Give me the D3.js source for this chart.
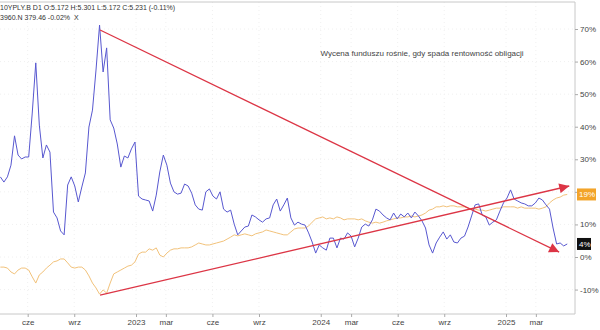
<!DOCTYPE html>
<html>
<head>
<meta charset="utf-8">
<script src="https://cdn.jsdelivr.net/npm/d3@7"></script>
<style>
  body { margin: 0; background: #fff; }
  svg { display: block; font-family: "Liberation Sans", Arial, sans-serif; }
</style>
</head>
<body>
<svg width="600" height="330"></svg>
<script>
// weekly closes, % change from start
const weekStart = "2022-04-08";

const yieldChange = [
  24.6, 23.0, 24.6, 28.2, 37.2, 31.3, 30.1, 30.7, 30.7, 44.2,
  59.6, 40.5, 30.4, 34.4, 32.2, 13.8, 12.0, 8.0, 6.8, 22.1,
  24.6, 21.8, 16.9, 21.5, 25.8, 39.9, 45.1, 57.4, 71.2, 56.8,
  64.2, 42.1, 39.6, 34.7, 27.6, 31.0, 30.4, 33.2, 35.3, 18.7,
  17.8, 17.5, 17.2, 14.1, 19.0, 26.1, 31.3, 28.2, 22.7, 20.0,
  19.3, 19.6, 22.4, 21.8, 19.6, 16.0, 14.7, 14.4, 20.0, 20.9,
  18.7, 17.8, 20.0, 14.7, 13.8, 14.4, 10.1, 6.8, 8.0, 9.2,
  9.5, 12.9, 12.3, 11.4, 10.7, 11.7, 12.0, 16.0, 17.8, 14.1,
  16.0, 18.1, 12.0, 9.8, 10.7, 10.1, 9.8, 7.4, 4.6, 1.2,
  3.7, 2.8, 2.1, 5.8, 5.8, 2.8, 5.8, 5.5, 7.4, 6.4,
  3.1, 5.8, 9.2, 10.1, 9.5, 11.4, 14.7, 14.1, 12.9, 12.0,
  11.4, 13.5, 11.7, 13.2, 12.3, 13.5, 12.0, 13.8, 12.6, 11.1,
  8.9, 3.7, 1.2, 4.3, 6.1, 7.7, 5.5, 6.8, 4.6, 4.3,
  5.8, 6.4, 9.2, 12.6, 16.0, 16.3, 12.9, 12.3, 9.8, 10.7,
  11.4, 14.1, 16.6, 18.1, 20.6, 17.8, 17.2, 16.6, 16.3, 15.7,
  15.7, 16.6, 18.1, 17.5, 16.0, 14.7, 8.9, 4.0, 4.3, 3.4,
  4.0
];

const fundChange = [
  -3.1, -3.1, -3.4, -4.6, -5.2, -4.0, -3.4, -3.4, -4.0, -6.1,
  -8.0, -5.5, -4.6, -3.4, -2.5, -1.5, -1.2, -0.6, -0.6, -1.8,
  -3.1, -3.4, -3.1, -3.1, -4.0, -5.8, -8.0, -9.5, -11.4, -10.1,
  -11.1, -8.0, -5.2, -4.6, -4.0, -3.4, -2.8, -2.5, -1.5, 0.9,
  1.5, 1.5, 2.5, 2.1, 2.8, 0.6, 0.0, 1.2, 2.1, 2.5,
  2.5, 2.8, 2.8, 2.8, 3.1, 3.7, 4.3, 4.0, 3.7, 3.7,
  4.0, 4.3, 4.6, 4.9, 5.5, 6.1, 6.8, 6.5, 6.8, 7.1,
  6.8, 6.5, 7.1, 7.4, 7.7, 8.3, 8.0, 7.7, 7.4, 7.1,
  6.8, 6.8, 7.7, 8.6, 8.9, 8.9, 8.9, 9.5, 10.7, 11.7,
  12.0, 12.3, 11.7, 12.0, 11.7, 12.3, 12.0, 11.4, 11.7, 11.7,
  11.7, 11.4, 11.7, 11.1, 10.7, 10.4, 10.7, 10.4, 10.7, 11.1,
  11.4, 11.7, 12.0, 12.0, 12.3, 12.3, 12.6, 12.3, 12.6, 12.9,
  13.5, 14.4, 14.7, 15.4, 15.4, 15.7, 15.4, 15.7, 15.7, 15.4,
  15.4, 15.4, 15.0, 14.7, 14.7, 14.4, 14.4, 14.1, 14.4, 14.7,
  15.0, 15.0, 15.4, 15.4, 15.4, 15.4, 15.0, 15.4, 15.0, 15.0,
  15.0, 15.0, 14.7, 15.0, 15.4, 16.6, 17.5, 18.1, 18.4, 19.0,
  19.2
];

const tickDates = ["2022-06-01", "2022-09-01", "2023-01-01", "2023-03-01", "2023-06-01", "2023-09-01",
                   "2024-01-01", "2024-03-01", "2024-06-01", "2024-09-01", "2025-01-01", "2025-03-01"];
const tickLabels = ["cze", "wrz", "2023", "mar", "cze", "wrz", "2024", "mar", "cze", "wrz", "2025", "mar"];
const yTicks = [-10, 0, 10, 20, 30, 40, 50, 60, 70];

// trend arrows drawn on the chart: [date, %]
const arrowFrom = [["2022-10-22", 69.7], ["2022-10-22", -11.7]];
const arrowTo = [["2025-04-16", 1.5], ["2025-05-06", 21.8]];

const headerLines = [
  "10YPLY.B D1 O:5.172 H:5.301 L:5.172 C:5.231 (-0.11%)",
  "3960.N 379.46 -0.02%  X"
];
const note = "Wycena funduszu rośnie, gdy spada rentowność obligacji";

const svg = d3.select("svg");
const parse = d3.timeParse("%Y-%m-%d");
const plot = {left: 0, right: 575, top: 2, bottom: 314};

const x = d3.scaleTime()
  .domain([parse("2023-01-01"), parse("2025-01-01")])
  .range([136, 506]);
const y = d3.scaleLinear().domain([0, 70]).range([257, 29]);

const start = parse(weekStart);
const dates = yieldChange.map((_, i) => d3.timeDay.offset(start, 7 * i));

svg.append("clipPath").attr("id", "clip")
  .append("rect")
  .attr("x", plot.left).attr("y", plot.top)
  .attr("width", plot.right - plot.left).attr("height", plot.bottom - plot.top);

// faint grid
const grid = svg.append("g").attr("stroke", "#f0f0f0").attr("stroke-dasharray", "1,3");
grid.selectAll(".gy").data(yTicks).join("line")
  .attr("x1", plot.left).attr("x2", plot.right)
  .attr("y1", d => y(d)).attr("y2", d => y(d));
grid.selectAll(".gx").data(tickDates).join("line")
  .attr("x1", d => x(parse(d))).attr("x2", d => x(parse(d)))
  .attr("y1", plot.top).attr("y2", plot.bottom);

// frame
svg.append("path")
  .attr("d", `M${plot.left},${plot.top}H${plot.right}V${plot.bottom}H${plot.left}`)
  .attr("fill", "none").attr("stroke", "#c8c8c8");

// last value tags (drawn over the axis labels)
const tags = [
  {v: fundChange[fundChange.length - 1], fill: "#f3a42a"},
  {v: yieldChange[yieldChange.length - 1], fill: "#111"}
];

// axes
const xAxis = svg.append("g")
  .attr("transform", `translate(0,${plot.bottom})`)
  .call(d3.axisBottom(x).tickValues(tickDates.map(parse))
    .tickFormat((d, i) => tickLabels[i]).tickSize(3).tickSizeOuter(0));
const yAxis = svg.append("g")
  .attr("transform", `translate(${plot.right},0)`)
  .call(d3.axisRight(y).tickValues(yTicks).tickFormat(d => d + "%").tickSize(3).tickSizeOuter(0));
[xAxis, yAxis].forEach(g => {
  g.select(".domain").remove();
  g.selectAll("line").attr("stroke", "#aaa");
  g.selectAll("text").attr("fill", "#444").style("font-size", "8px");
});
xAxis.selectAll("text").attr("dy", "0.6em");
yAxis.selectAll("text").attr("dx", "-1");
// a tag hides the tick label beneath it
yAxis.selectAll(".tick")
  .filter(d => tags.some(t => Math.abs(y(d) - y(t.v)) < 8))
  .select("text").remove();

const line = d3.line().x((d, i) => x(dates[i])).y(d => y(d));
const lines = svg.append("g").attr("clip-path", "url(#clip)");
lines.append("path").attr("d", line(fundChange))
  .attr("fill", "none").attr("stroke", "#f2c27a").attr("stroke-width", 1);
lines.append("path").attr("d", line(yieldChange))
  .attr("fill", "none").attr("stroke", "#5858d0").attr("stroke-width", 1);

// arrows
svg.append("defs").append("marker")
  .attr("id", "head").attr("viewBox", "0 0 10 10")
  .attr("refX", 10).attr("refY", 5)
  .attr("markerWidth", 12).attr("markerHeight", 10)
  .attr("markerUnits", "userSpaceOnUse")
  .attr("orient", "auto")
  .append("path").attr("d", "M0,0L10,5L0,10Z").attr("fill", "#dc3545");
arrowFrom.forEach((f, i) => {
  const t = arrowTo[i];
  svg.append("line")
    .attr("x1", x(parse(f[0]))).attr("y1", y(f[1]))
    .attr("x2", x(parse(t[0]))).attr("y2", y(t[1]))
    .attr("stroke", "#dc3545").attr("stroke-width", 1.3)
    .attr("marker-end", "url(#head)");
});

const fmt = d3.format(".0f");
tags.forEach(t => {
  const label = fmt(Math.floor(t.v)) + "%";
  const g = svg.append("g").attr("transform", `translate(${plot.right + 2},${y(t.v)})`);
  const w = label.length * 5 + 4;
  g.append("rect").attr("x", 0).attr("y", -6).attr("width", w).attr("height", 12).attr("fill", t.fill);
  g.append("text").attr("x", 2).attr("y", 3).attr("fill", "#fff")
    .style("font-size", "8px").text(label);
});

// header and note
svg.selectAll(".hdr").data(headerLines).join("text")
  .attr("x", 0).attr("y", (d, i) => 10 + i * 9.5)
  .attr("fill", "#333").style("font-size", "7px")
  .attr("xml:space", "preserve")
  .text(d => d);
svg.append("text")
  .attr("x", 422).attr("y", 56).attr("text-anchor", "middle")
  .attr("fill", "#444").style("font-size", "8px")
  .text(note);
</script>
</body>
</html>
